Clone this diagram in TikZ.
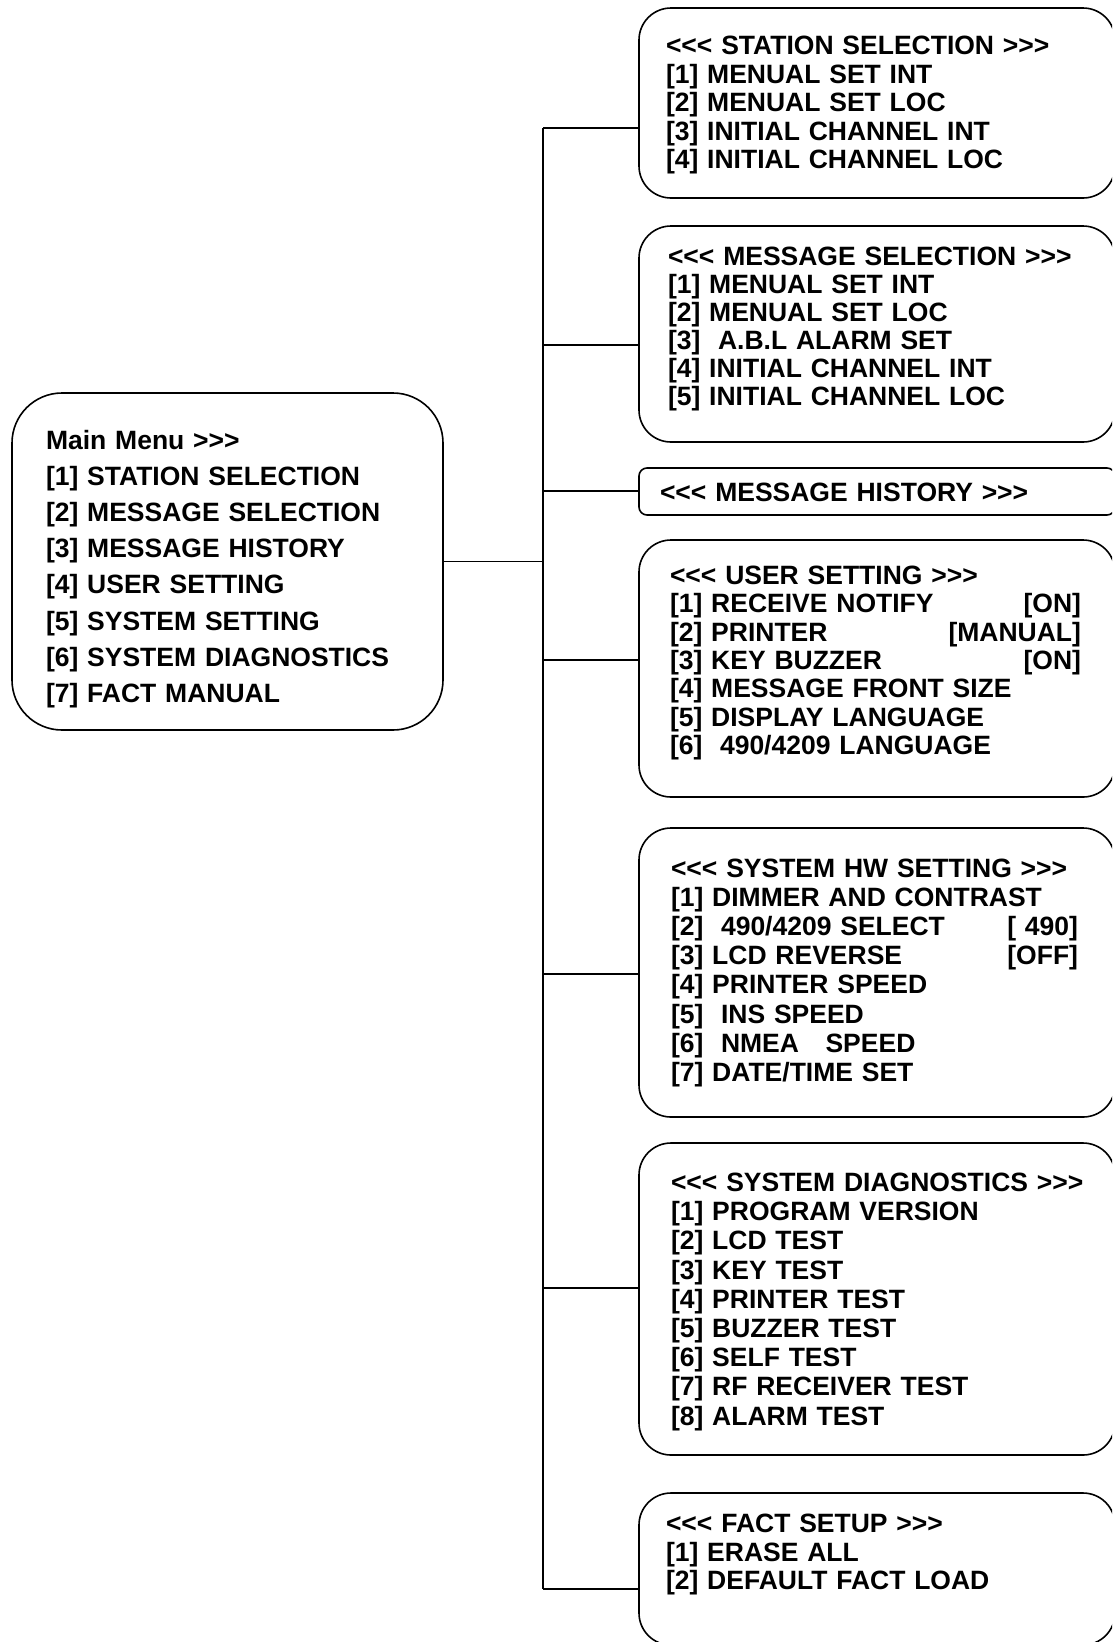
\documentclass[tikz,border=0pt]{standalone}
\usepackage{fontspec}
\setmainfont{Liberation Sans}
\begin{document}
\begin{tikzpicture}[x=1pt,y=-1pt,
  every node/.style={inner sep=0pt, outer sep=0pt},
  box/.style={draw, line width=1.6pt, rounded corners=32pt, anchor=north west, minimum width=476pt},
  txt/.style={anchor=base west, align=left, text width=440pt, font=\bfseries\fontsize{26.5}{28.5}\selectfont},
  conn/.style={line width=1.6pt}]
\useasboundingbox (0,0) rectangle (1112,1642);
\clip (0,0) rectangle (1112,1642);
\fill[white] (0,0) rectangle (1112,1642);
% boxes
\node[box, rounded corners=50pt, minimum width=431pt, minimum height=337pt] (main) at (12,393) {};
\node[box, minimum height=190pt] (st) at (639,8) {};
\node[box, minimum height=216pt] (ms) at (639,226) {};
\node[box, rounded corners=8pt, minimum height=47pt] (mh) at (639,468) {};
\node[box, minimum height=257pt] (us) at (639,540) {};
\node[box, minimum height=289pt] (hw) at (639,828) {};
\node[box, minimum height=312pt] (dg) at (639,1143) {};
\node[box, minimum height=152pt] (fs) at (639,1493) {};
% texts
\node[txt, text width=390pt, font=\bfseries\fontsize{26.5}{36.1}\selectfont] (main-t) at (46,449.5)
 {Main Menu {>}{>}{>}\\
  {[1]} STATION SELECTION\\
  {[2]} MESSAGE SELECTION\\
  {[3]} MESSAGE HISTORY\\
  {[4]} USER SETTING\\
  {[5]} SYSTEM SETTING\\
  {[6]} SYSTEM DIAGNOSTICS\\
  {[7]} FACT MANUAL};
\node[txt] (st-t) at (666,54.5)
 {{<}{<}{<} STATION SELECTION {>}{>}{>}\\
  {[1]} MENUAL SET INT\\
  {[2]} MENUAL SET LOC\\
  {[3]} INITIAL CHANNEL INT\\
  {[4]} INITIAL CHANNEL LOC};
\node[txt, font=\bfseries\fontsize{26.5}{28}\selectfont] (ms-t) at (668,265)
 {{<}{<}{<} MESSAGE SELECTION {>}{>}{>}\\
  {[1]} MENUAL SET INT\\
  {[2]} MENUAL SET LOC\\
  {[3]}\ \ A.B.L ALARM SET\\
  {[4]} INITIAL CHANNEL INT\\
  {[5]} INITIAL CHANNEL LOC};
\node[txt] (mh-t) at (660,501.5)
 {{<}{<}{<} MESSAGE HISTORY {>}{>}{>}};
\node[txt, text width=411pt, font=\bfseries\fontsize{26.5}{28.3}\selectfont] (us-t) at (670,584.5)
 {{<}{<}{<} USER SETTING {>}{>}{>}\\
  {[1]} RECEIVE NOTIFY\hfill{[ON]}\\
  {[2]} PRINTER\hfill{[MANUAL]}\rlap{\ }\\
  {[3]} KEY BUZZER\hfill{[ON]}\\
  {[4]} MESSAGE FRONT SIZE\\
  {[5]} DISPLAY LANGUAGE\\
  {[6]}\ \ 490/4209 LANGUAGE};
\node[txt, text width=407pt, font=\bfseries\fontsize{26.5}{29.1}\selectfont] (hw-t) at (671,877.5)
 {{<}{<}{<} SYSTEM HW SETTING {>}{>}{>}\\
  {[1]} DIMMER AND CONTRAST\\
  {[2]}\ \ 490/4209 SELECT\hfill{[ 490]}\\
  {[3]} LCD REVERSE\hfill{[OFF]}\\
  {[4]} PRINTER SPEED\\
  {[5]}\ \ INS SPEED\\
  {[6]}\ \ NMEA\ \ \ SPEED\\
  {[7]} DATE/TIME SET};
\node[txt, font=\bfseries\fontsize{26.5}{29.2}\selectfont] (dg-t) at (671,1191.5)
 {{<}{<}{<} SYSTEM DIAGNOSTICS {>}{>}{>}\\
  {[1]} PROGRAM VERSION\\
  {[2]} LCD TEST\\
  {[3]} KEY TEST\\
  {[4]} PRINTER TEST\\
  {[5]} BUZZER TEST\\
  {[6]} SELF TEST\\
  {[7]} RF RECEIVER TEST\\
  {[8]} ALARM TEST};
\node[txt, font=\bfseries\fontsize{26.5}{28.5}\selectfont] (fs-t) at (666,1532.5)
 {{<}{<}{<} FACT SETUP {>}{>}{>}\\
  {[1]} ERASE ALL\\
  {[2]} DEFAULT FACT LOAD};
% connectors
\coordinate (j-st) at (543,128);
\coordinate (j-ms) at (543,345);
\coordinate (j-mh) at (543,491);
\coordinate (j-us) at (543,660);
\coordinate (j-hw) at (543,974);
\coordinate (j-dg) at (543,1288);
\coordinate (j-fs) at (543,1589);
\draw[conn] (main.east) -- (main.east -| j-st);
\draw[conn] (j-st) -- (j-fs);
\foreach \b in {st,ms,mh,us,hw,dg,fs}
  \draw[conn] (j-\b) -- (j-\b -| \b.west);
\end{tikzpicture}
\end{document}
